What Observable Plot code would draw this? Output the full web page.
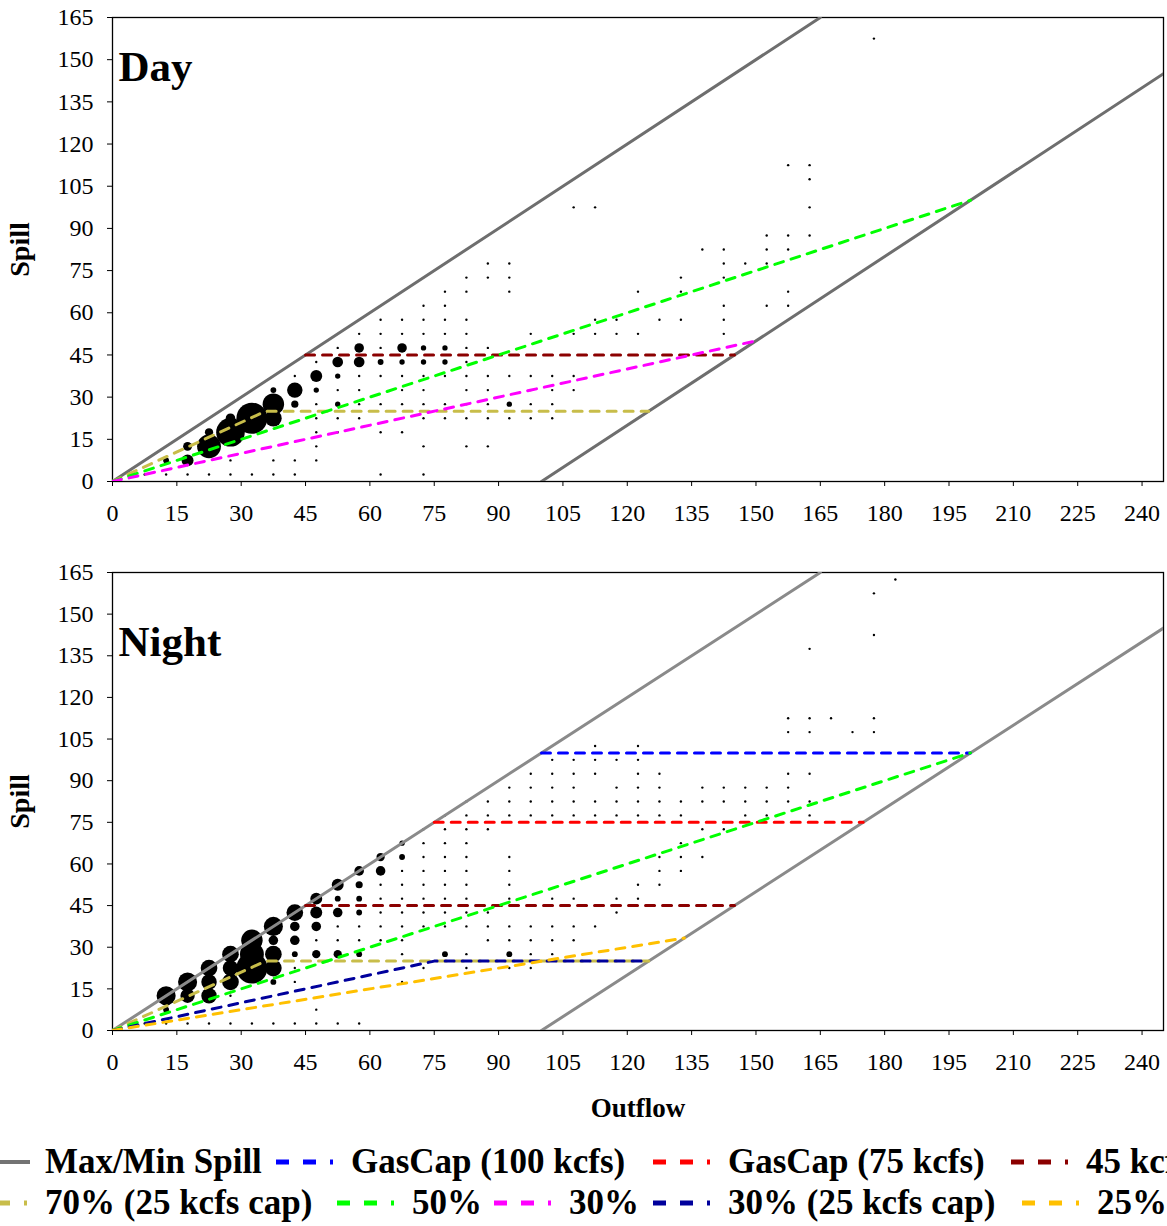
<!DOCTYPE html>
<html>
<head>
<meta charset="utf-8">
<script src="https://cdn.jsdelivr.net/npm/d3@7"></script>
<script src="https://cdn.jsdelivr.net/npm/@observablehq/plot@0.6"></script>
<style>
  html, body { margin: 0; padding: 0; background: #fff; }
  body { width: 1167px; height: 1226px; overflow: hidden; position: relative;
         font-family: "Liberation Serif", "Times New Roman", serif; }
  .panel { position: absolute; left: 0; }
  .legend-row { position: absolute; left: 0; width: 1167px; height: 40px; }
  .legend-item { position: absolute; top: 0; height: 40px; display: flex; align-items: center;
                 white-space: nowrap; font-weight: bold; font-size: 35px; color: #000; }
  .legend-item svg { margin-right: 15px; flex: none; }
</style>
</head>
<body>
<div id="top" class="panel" style="top:0px"></div>
<div id="bottom" class="panel" style="top:540px"></div>
<div id="legend1" class="legend-row" style="top:1142px"></div>
<div id="legend2" class="legend-row" style="top:1183px"></div>
<script>
// ---------- axis ticks ----------
const outflowTicks = [0, 15, 30, 45, 60, 75, 90, 105, 120, 135, 150, 165, 180, 195, 210, 225, 240];
const spillTicks = [0, 15, 30, 45, 60, 75, 90, 105, 120, 135, 150, 165];

// ---------- reference lines (outflow, spill breakpoints) ----------
const maxSpillOutflow = [0, 165], maxSpillSpill = [0, 165];
const minSpillOutflow = [100, 245], minSpillSpill = [0, 145];

const gas100Outflow = [100, 200], gas100Spill = [100, 100];
const gas75Outflow = [75, 175], gas75Spill = [75, 75];
const cap45Outflow = [45, 145], cap45Spill = [45, 45];
const pct70Outflow = [0, 35.7, 125], pct70Spill = [0, 25, 25];
const pct50Outflow = [0, 200], pct50Spill = [0, 100];
const pct30Outflow = [0, 150], pct30Spill = [0, 50];
const pct30capOutflow = [0, 75, 125], pct30capSpill = [0, 25, 25];
const pct25Outflow = [0, 133.3], pct25Spill = [0, 33.3];

// ---------- observed frequency bins: Day ----------
// single-occurrence bins: [spill, [outflows...]]
const dayTinyRows = [
  [2.5, [7.5, 12.5, 17.5, 22.5, 27.5, 32.5, 37.5, 42.5, 62.5, 72.5]],
  [7.5, [27.5, 37.5, 42.5, 47.5]],
  [12.5, [47.5, 72.5, 82.5, 87.5]],
  [17.5, [47.5, 52.5, 62.5, 67.5]],
  [22.5, [47.5, 52.5, 57.5, 72.5, 77.5, 82.5, 87.5, 92.5, 97.5, 102.5]],
  [27.5, [47.5, 57.5, 62.5, 67.5, 72.5, 77.5, 82.5, 87.5, 97.5, 102.5]],
  [32.5, [52.5, 57.5, 67.5, 72.5, 82.5, 87.5, 97.5, 102.5, 107.5]],
  [37.5, [42.5, 57.5, 62.5, 67.5, 72.5, 77.5, 82.5, 87.5, 92.5, 97.5, 102.5, 107.5]],
  [42.5, [47.5, 82.5]],
  [47.5, [52.5, 62.5, 82.5, 87.5]],
  [52.5, [57.5, 62.5, 67.5, 72.5, 77.5, 82.5, 97.5, 107.5, 112.5, 117.5, 122.5, 142.5]],
  [57.5, [62.5, 67.5, 72.5, 77.5, 82.5, 112.5, 117.5, 127.5, 132.5, 142.5]],
  [62.5, [72.5, 77.5, 142.5, 152.5, 157.5]],
  [67.5, [77.5, 82.5, 92.5, 122.5, 132.5, 157.5]],
  [72.5, [82.5, 87.5, 92.5, 132.5, 142.5]],
  [77.5, [87.5, 92.5, 142.5, 147.5, 152.5]],
  [82.5, [137.5, 142.5, 152.5, 157.5]],
  [87.5, [152.5, 157.5, 162.5]],
  [97.5, [107.5, 112.5, 162.5]],
  [107.5, [162.5]],
  [112.5, [157.5, 162.5]],
  [157.5, [177.5]]
];
// larger bins: [outflow, spill, count]
const dayBubbles = [
  [12.5, 7.5, 6], [17.5, 7.5, 25], [17.5, 12.5, 14], [22.5, 12.5, 100], [22.5, 17.5, 12],
  [27.5, 17.5, 144], [27.5, 22.5, 16], [32.5, 22.5, 169], [37.5, 22.5, 49], [37.5, 27.5, 81],
  [37.5, 32.5, 6], [42.5, 27.5, 9], [42.5, 32.5, 42], [47.5, 32.5, 5], [47.5, 37.5, 25],
  [52.5, 27.5, 5], [52.5, 37.5, 5], [52.5, 42.5, 20], [57.5, 42.5, 20], [57.5, 47.5, 16],
  [67.5, 47.5, 16], [62.5, 42.5, 6], [67.5, 42.5, 5], [72.5, 42.5, 5], [77.5, 42.5, 5],
  [72.5, 47.5, 5], [77.5, 47.5, 5], [92.5, 27.5, 5]
];

// ---------- observed frequency bins: Night ----------
const nightTinyRows = [
  [2.5, [7.5, 12.5, 17.5, 22.5, 27.5, 32.5, 37.5, 42.5, 47.5, 52.5, 57.5]],
  [7.5, [47.5]],
  [12.5, [27.5]],
  [17.5, [42.5, 67.5]],
  [22.5, [42.5, 72.5, 82.5, 92.5, 97.5]],
  [27.5, [67.5, 82.5, 97.5, 102.5]],
  [32.5, [47.5, 52.5, 57.5, 62.5, 67.5, 87.5, 92.5, 97.5, 102.5, 107.5]],
  [37.5, [52.5, 57.5, 62.5, 67.5, 72.5, 77.5, 82.5, 87.5, 92.5, 97.5, 102.5, 107.5, 112.5]],
  [42.5, [62.5, 67.5, 72.5, 77.5, 82.5, 87.5, 117.5]],
  [47.5, [62.5, 67.5, 72.5, 77.5, 82.5, 92.5, 102.5, 107.5, 117.5, 122.5]],
  [52.5, [62.5, 67.5, 72.5, 77.5, 82.5, 92.5, 122.5, 127.5]],
  [57.5, [67.5, 72.5, 77.5, 82.5, 92.5, 127.5, 132.5]],
  [62.5, [72.5, 77.5, 82.5, 92.5, 127.5, 132.5, 137.5]],
  [67.5, [72.5, 77.5, 82.5, 132.5]],
  [72.5, [72.5, 77.5, 82.5, 87.5, 137.5, 142.5]],
  [77.5, [77.5, 82.5, 87.5, 92.5, 97.5, 102.5, 107.5, 112.5, 117.5, 122.5, 127.5, 132.5, 147.5, 152.5, 162.5]],
  [82.5, [82.5, 87.5, 92.5, 97.5, 102.5, 107.5, 112.5, 117.5, 122.5, 127.5, 132.5, 137.5, 142.5, 147.5, 152.5, 157.5, 162.5]],
  [87.5, [92.5, 97.5, 102.5, 107.5, 117.5, 122.5, 127.5, 137.5, 142.5, 147.5, 152.5, 157.5]],
  [92.5, [97.5, 102.5, 107.5, 112.5, 122.5, 127.5, 157.5, 162.5]],
  [97.5, [102.5, 107.5, 112.5, 117.5, 122.5]],
  [102.5, [112.5, 122.5]],
  [107.5, [157.5, 162.5, 172.5, 177.5]],
  [112.5, [157.5, 162.5, 167.5, 177.5]],
  [137.5, [162.5]],
  [142.5, [177.5]],
  [157.5, [177.5]],
  [162.5, [182.5]]
];
const nightBubbles = [
  [12.5, 7.5, 6], [12.5, 12.5, 64], [17.5, 12.5, 36], [17.5, 17.5, 64], [22.5, 12.5, 42],
  [22.5, 17.5, 42], [22.5, 22.5, 49], [27.5, 17.5, 49], [27.5, 22.5, 42], [27.5, 27.5, 49],
  [32.5, 22.5, 169], [32.5, 27.5, 100], [32.5, 32.5, 81], [37.5, 17.5, 6], [37.5, 22.5, 49],
  [37.5, 27.5, 49], [37.5, 32.5, 16], [37.5, 37.5, 64], [42.5, 27.5, 6], [42.5, 32.5, 16],
  [42.5, 37.5, 16], [42.5, 42.5, 49], [47.5, 27.5, 12], [47.5, 37.5, 16], [47.5, 42.5, 25],
  [47.5, 47.5, 25], [52.5, 27.5, 12], [52.5, 42.5, 16], [52.5, 47.5, 6], [52.5, 52.5, 25],
  [57.5, 27.5, 6], [57.5, 42.5, 6], [57.5, 47.5, 6], [57.5, 52.5, 9], [57.5, 57.5, 16],
  [62.5, 57.5, 16], [62.5, 62.5, 12], [67.5, 62.5, 6], [67.5, 67.5, 5], [77.5, 27.5, 6],
  [92.5, 27.5, 6]
];

// ---------- series names / colours ----------
const seriesNames = ["Max/Min Spill", "GasCap (100 kcfs)", "GasCap (75 kcfs)", "45 kcfs cap",
  "70% (25 kcfs cap)", "50%", "30%", "30% (25 kcfs cap)", "25%"];
const seriesColors = ["#737373", "#0000ff", "#ff0000", "#8b0000",
  "#c8bd4a", "#00ff00", "#ff00ff", "#00009c", "#ffc000"];

// ---------- build tables ----------
const pts = (xs, ys) => xs.map((x, i) => ({outflow: x, spill: ys[i]}));
function bins(tinyRows, bubbles) {
  const out = [];
  for (const [s, xs] of tinyRows) for (const x of xs) out.push({outflow: x, spill: s, count: 1});
  for (const [x, s, c] of bubbles) out.push({outflow: x, spill: s, count: c});
  return out;
}
const colorOf = name => seriesColors[seriesNames.indexOf(name)];

const dayLines = [
  {name: "45 kcfs cap", data: pts(cap45Outflow, cap45Spill)},
  {name: "70% (25 kcfs cap)", data: pts(pct70Outflow, pct70Spill)},
  {name: "50%", data: pts(pct50Outflow, pct50Spill)},
  {name: "30%", data: pts(pct30Outflow, pct30Spill)}
];
const nightLines = [
  {name: "GasCap (100 kcfs)", data: pts(gas100Outflow, gas100Spill)},
  {name: "GasCap (75 kcfs)", data: pts(gas75Outflow, gas75Spill)},
  {name: "45 kcfs cap", data: pts(cap45Outflow, cap45Spill)},
  {name: "70% (25 kcfs cap)", data: pts(pct70Outflow, pct70Spill)},
  {name: "50%", data: pts(pct50Outflow, pct50Spill)},
  {name: "30% (25 kcfs cap)", data: pts(pct30capOutflow, pct30capSpill)},
  {name: "25%", data: pts(pct25Outflow, pct25Spill)}
];

const FONT = "'Liberation Serif', 'Times New Roman', serif";

function panel({title, titleDy, dots, lines, height, marginTop, marginBottom, gray, xLabel}) {
  const marks = [
    Plot.frame({stroke: "#000", strokeWidth: 1.3}),
    Plot.dot(dots, {x: "outflow", y: "spill", r: "count", fill: "#000", stroke: "none"}),
    Plot.line(pts(maxSpillOutflow, maxSpillSpill), {x: "outflow", y: "spill", stroke: gray, strokeWidth: 3, clip: true}),
    Plot.line(pts(minSpillOutflow, minSpillSpill), {x: "outflow", y: "spill", stroke: gray, strokeWidth: 3, clip: true}),
    ...lines.map(l => Plot.line(l.data, {x: "outflow", y: "spill", stroke: colorOf(l.name), strokeWidth: 3,
      strokeDasharray: "9,8", clip: true})),
    Plot.axisX({ticks: outflowTicks, tickSize: 5, tickPadding: 17, fontSize: 24, label: null}),
    Plot.axisY({ticks: spillTicks, tickSize: 5, tickPadding: 14, fontSize: 24, label: null}),
    Plot.text([title], {frameAnchor: "top-left", dx: 6, dy: titleDy, lineAnchor: "bottom", textAnchor: "start",
      fontSize: 43, fontWeight: "bold"}),
    Plot.text(["Spill"], {frameAnchor: "left", dx: -92, rotate: -90, textAnchor: "middle", lineAnchor: "middle",
      fontSize: 28, fontWeight: "bold"})
  ];
  if (xLabel) marks.push(Plot.text([xLabel], {frameAnchor: "bottom", dy: 78, textAnchor: "middle",
    lineAnchor: "middle", fontSize: 27, fontWeight: "bold"}));
  return Plot.plot({
    width: 1167, height, marginLeft: 112, marginRight: 4, marginTop, marginBottom,
    x: {domain: [0, 245]},
    y: {domain: [0, 165]},
    r: {type: "sqrt", domain: [0, 169], range: [0, 15.5]},
    style: {fontFamily: FONT, fontSize: "24px", color: "#000", background: "transparent", overflow: "visible"},
    marks
  });
}

document.getElementById("top").append(panel({
  title: "Day", titleDy: 63, dots: bins(dayTinyRows, dayBubbles), lines: dayLines,
  height: 530, marginTop: 17, marginBottom: 49, gray: "#6e6e6e"
}));
document.getElementById("bottom").append(panel({
  title: "Night", titleDy: 83, dots: bins(nightTinyRows, nightBubbles), lines: nightLines,
  height: 590, marginTop: 32, marginBottom: 100, gray: "#8a8a8a", xLabel: "Outflow"
}));

// ---------- legend ----------
const legendRows = [
  ["Max/Min Spill", "GasCap (100 kcfs)", "GasCap (75 kcfs)", "45 kcfs cap"],
  ["70% (25 kcfs cap)", "50%", "30%", "30% (25 kcfs cap)", "25%"]
];
// layout: left edge (px) of each legend entry's symbol, per row
const legendLayout = [[-30, 276, 653, 1011], [-30, 337, 494, 653, 1022]];
function symbol(name) {
  const c = colorOf(name);
  const solid = name === "Max/Min Spill";
  const ns = "http://www.w3.org/2000/svg";
  const svg = document.createElementNS(ns, "svg");
  svg.setAttribute("width", 60); svg.setAttribute("height", 12);
  const ln = document.createElementNS(ns, "line");
  ln.setAttribute("x1", 0); ln.setAttribute("x2", 60); ln.setAttribute("y1", 6); ln.setAttribute("y2", 6);
  ln.setAttribute("stroke", c); ln.setAttribute("stroke-width", solid ? 4 : 5);
  if (!solid) ln.setAttribute("stroke-dasharray", "13 14 13 14 3 10");
  svg.append(ln);
  return svg;
}
legendRows.forEach((row, i) => {
  const el = document.getElementById("legend" + (i + 1));
  row.forEach((name, j) => {
    const item = document.createElement("div");
    item.className = "legend-item";
    item.style.left = legendLayout[i][j] + "px";
    item.append(symbol(name));
    const t = document.createElement("span");
    t.textContent = name;
    item.append(t);
    el.append(item);
  });
});
</script>
</body>
</html>
